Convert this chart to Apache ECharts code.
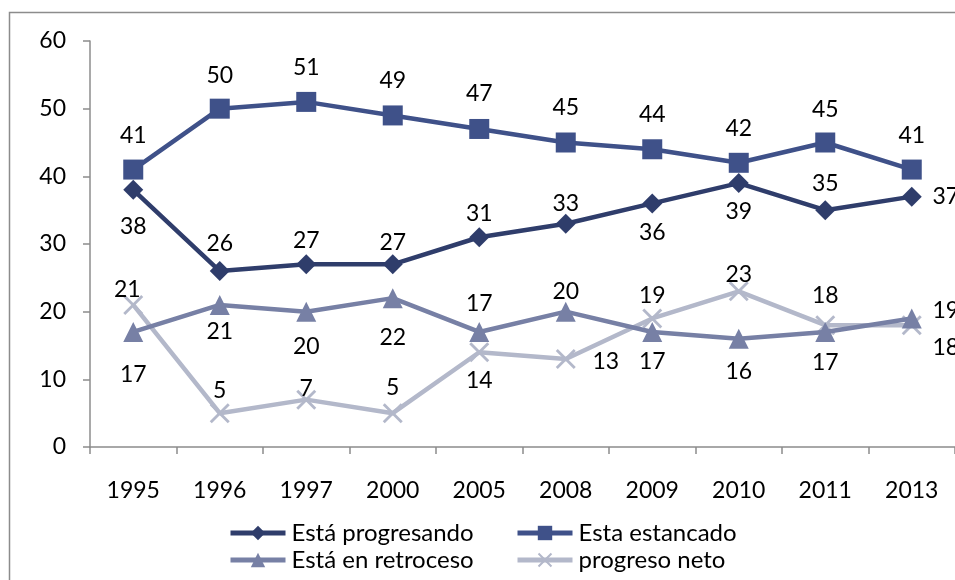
<!DOCTYPE html>
<html>
<head>
<meta charset="utf-8">
<script src="https://cdn.jsdelivr.net/npm/echarts@6/dist/echarts.min.js"></script>
<style>
  html, body { margin: 0; padding: 0; background: #fff; }
  #chart { width: 955px; height: 580px; }
</style>
</head>
<body>
<div id="chart"></div>
<script>
var years = ['1995', '1996', '1997', '2000', '2005', '2008', '2009', '2010', '2011', '2013'];
var progresando = [38, 26, 27, 27, 31, 33, 36, 39, 35, 37];
var estancado = [41, 50, 51, 49, 47, 45, 44, 42, 45, 41];
var retroceso = [17, 21, 20, 22, 17, 20, 17, 16, 17, 19];
var neto = [21, 5, 7, 5, 14, 13, 19, 23, 18, 18];
var yTicks = [0, 10, 20, 30, 40, 50, 60];

// label shift from the point centre, in px (style only)
var progDx = [0, 0, 0, 0, 0, 0, 0, 0, 0, 34];
var progDy = [37, -27, -24, -22, -24, -20, 29, 28, -27, 0];
var estDx = [0, 0, 0, 0, 0, 0, 0, 0, 0, 0];
var estDy = [-34, -33, -34, -35, -35, -35, -35, -34, -33, -34];
var retDx = [0, 0, 0, 0, 0, 0, 0, 0, 0, 34];
var retDy = [43, 27, 35, 39, -28, -20, 30, 33, 31, -8];
var netoDx = [-6, 0, 0, 0, 0, 40, 0, 0, 0, 34];
var netoDy = [-15, -23, -11, -26, 28, 3, -23, -17, -30, 22];

var FONT = 'Lato';
var FS = 23;
var crossPath = 'path://M0,1 L1,0 L5,4 L9,0 L10,1 L6,5 L10,9 L9,10 L5,6 L1,10 L0,9 L4,5 Z';

function withLabels(values, dx, dy) {
  return values.map(function (v, i) {
    return { value: v, label: { position: 'inside', offset: [dx[i], dy[i]] } };
  });
}

var chart = echarts.init(document.getElementById('chart'));

function legendItem(name, left, top) {
  return {
    data: [name],
    left: left,
    top: top,
    itemWidth: 55,
    itemHeight: 18,
    itemGap: 0,
    lineStyle: { width: 5 },
    textStyle: { fontFamily: FONT, fontSize: 24, color: '#000', padding: [0, 0, 0, 1] },
    selectedMode: false
  };
}

var labelStyle = { show: true, fontFamily: FONT, fontSize: FS, color: '#000' };

var option = {
  animation: false,
  textStyle: { fontFamily: FONT },
  graphic: [{
    type: 'rect',
    shape: { x: 9.5, y: 12.5, width: 980, height: 600 },
    style: { fill: 'none', stroke: '#8c8c8c', lineWidth: 1.5 }
  }],
  legend: [
    legendItem('Está progresando', 223, 516),
    legendItem('Esta estancado', 510, 516),
    legendItem('Está en retroceso', 223, 543),
    legendItem('progreso neto', 510, 543)
  ],
  grid: { left: 90, top: 41, width: 870, height: 406, containLabel: false },
  xAxis: {
    type: 'category',
    data: years,
    boundaryGap: true,
    axisLine: { lineStyle: { color: '#8c8c8c', width: 1.5 } },
    axisTick: { show: true, length: 7, lineStyle: { color: '#8c8c8c', width: 1.5 } },
    axisLabel: { fontFamily: FONT, fontSize: FS, color: '#000', margin: 32 }
  },
  yAxis: {
    type: 'value',
    min: yTicks[0],
    max: yTicks[yTicks.length - 1],
    interval: 10,
    splitLine: { show: false },
    axisLine: { show: true, lineStyle: { color: '#8c8c8c', width: 1.5 } },
    axisTick: { show: true, length: 7, lineStyle: { color: '#8c8c8c', width: 1.5 } },
    axisLabel: { fontFamily: FONT, fontSize: FS, color: '#000', margin: 24 }
  },
  series: [
    {
      name: 'Está progresando',
      type: 'line',
      data: withLabels(progresando, progDx, progDy),
      symbol: 'diamond',
      symbolSize: 20,
      color: '#2f3d6b',
      lineStyle: { width: 4.5 },
      label: labelStyle,
      z: 4
    },
    {
      name: 'Esta estancado',
      type: 'line',
      data: withLabels(estancado, estDx, estDy),
      symbol: 'rect',
      symbolSize: 20,
      color: '#3f5189',
      lineStyle: { width: 4.5 },
      label: labelStyle,
      z: 4
    },
    {
      name: 'Está en retroceso',
      type: 'line',
      data: withLabels(retroceso, retDx, retDy),
      symbol: 'triangle',
      symbolSize: 20,
      color: '#7780a5',
      lineStyle: { width: 4.5 },
      label: labelStyle,
      z: 3
    },
    {
      name: 'progreso neto',
      type: 'line',
      data: withLabels(neto, netoDx, netoDy),
      symbol: crossPath,
      symbolSize: 20,
      color: '#b3b8ca',
      lineStyle: { width: 4.5 },
      label: labelStyle,
      z: 2
    }
  ]
};

chart.setOption(option);
</script>
</body>
</html>
